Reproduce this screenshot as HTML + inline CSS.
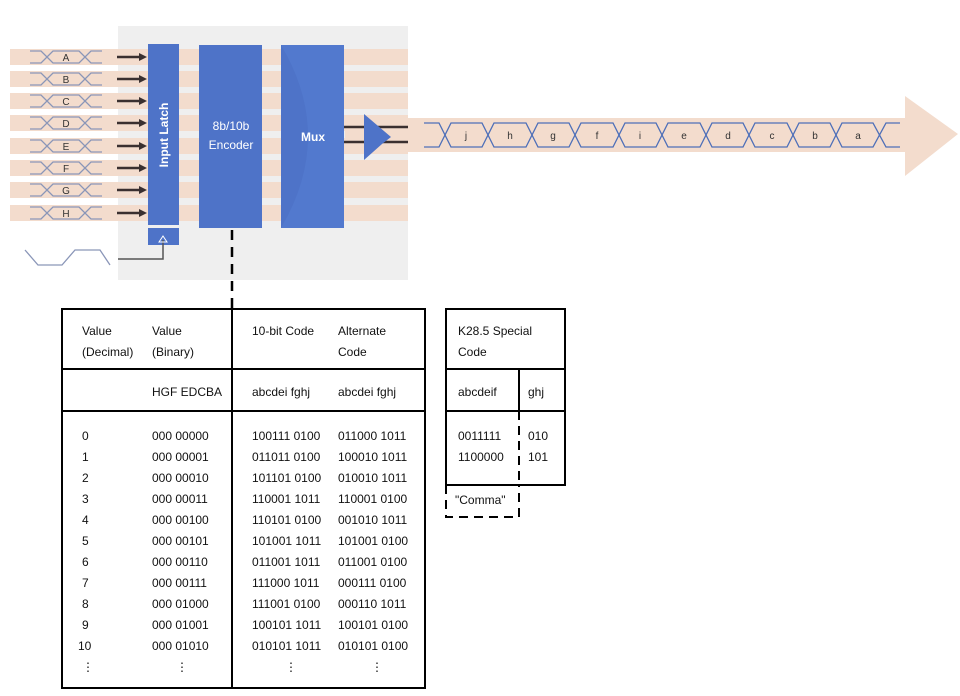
<!DOCTYPE html>
<html><head><meta charset="utf-8"><style>
html,body{margin:0;padding:0;background:#fff;}
svg{display:block;font-family:"Liberation Sans",Arial,sans-serif;}
</style></head><body>
<svg width="960" height="696" viewBox="0 0 960 696" xmlns="http://www.w3.org/2000/svg">
<rect x="118" y="26" width="290" height="254" fill="#efefef"/>
<g fill="#f3dccd">
<rect x="10" y="49" width="398" height="16"/>
<rect x="10" y="71" width="398" height="16"/>
<rect x="10" y="93" width="398" height="16"/>
<rect x="10" y="115" width="398" height="16"/>
<rect x="10" y="138" width="398" height="16"/>
<rect x="10" y="160" width="398" height="16"/>
<rect x="10" y="182" width="398" height="16"/>
<rect x="10" y="205" width="398" height="16"/>
<polygon points="345,118 905,118 905,96 958,134 905,176 905,152 345,152"/>
</g>
<g fill="none" stroke="#8a96b8" stroke-width="1.3">
<path id="eye" d="M30,51 L41,51 L53,63 L79,63 L91,51 L102,51 M30,63 L41,63 L53,51 L79,51 L91,63 L102,63"/>
<use href="#eye" y="22"/><use href="#eye" y="44"/><use href="#eye" y="66"/><use href="#eye" y="89"/><use href="#eye" y="111"/><use href="#eye" y="133"/><use href="#eye" y="156"/>
</g>
<g font-size="10" fill="#333" text-anchor="middle">
<text x="66" y="61">A</text><text x="66" y="83">B</text><text x="66" y="105">C</text><text x="66" y="127">D</text><text x="66" y="150">E</text><text x="66" y="172">F</text><text x="66" y="194">G</text><text x="66" y="217">H</text>
</g>
<g stroke="#3a3030" stroke-width="2.5">
<line x1="117" y1="57" x2="140" y2="57"/><line x1="117" y1="79" x2="140" y2="79"/><line x1="117" y1="101" x2="140" y2="101"/><line x1="117" y1="123" x2="140" y2="123"/><line x1="117" y1="146" x2="140" y2="146"/><line x1="117" y1="168" x2="140" y2="168"/><line x1="117" y1="190" x2="140" y2="190"/><line x1="117" y1="213" x2="140" y2="213"/>
</g>
<g fill="#3a3030">
<polygon points="139,53 147,57 139,61"/><polygon points="139,75 147,79 139,83"/><polygon points="139,97 147,101 139,105"/><polygon points="139,119 147,123 139,127"/><polygon points="139,142 147,146 139,150"/><polygon points="139,164 147,168 139,172"/><polygon points="139,186 147,190 139,194"/><polygon points="139,209 147,213 139,217"/>
</g>
<rect x="148" y="44" width="31" height="181" fill="#4e73c8"/>
<rect x="148" y="228" width="31" height="17" fill="#4e73c8"/>
<rect x="199" y="45" width="63" height="183" fill="#4e73c8"/>
<rect x="281" y="45" width="63" height="183" fill="#4e73c8"/>
<path d="M281,45 Q335,136 281,228 L344,228 L344,45 Z" fill="#5680d4" opacity="0.5"/>
<text transform="translate(168,135) rotate(-90)" font-size="12" font-weight="bold" fill="#fff" text-anchor="middle">Input Latch</text>
<text x="231" y="130" font-size="12" fill="#fff" text-anchor="middle">8b/10b</text>
<text x="231" y="149" font-size="12" fill="#fff" text-anchor="middle">Encoder</text>
<text x="313" y="141" font-size="12" font-weight="bold" fill="#fff" text-anchor="middle">Mux</text>
<polyline points="25,250 38,265 62,265 75,250 100,250 110,265" fill="none" stroke="#8a96b8" stroke-width="1.3"/>
<polyline points="118,259 163,259 163,240" fill="none" stroke="#555" stroke-width="1.5"/>
<polygon points="159,242 163,236 167,242" fill="none" stroke="#fff" stroke-width="1"/>
<g stroke="#3a3030" stroke-width="2.5"><line x1="344" y1="127" x2="408" y2="127"/><line x1="344" y1="142" x2="408" y2="142"/></g>
<polygon points="364,114 391,137 382,144 364,160" fill="#4e73c8"/>
<g font-size="10" fill="#333" text-anchor="middle">
<text x="466" y="139">j</text><text x="510" y="139">h</text><text x="553" y="139">g</text><text x="597" y="139">f</text><text x="640" y="139">i</text><text x="684" y="139">e</text><text x="728" y="139">d</text><text x="772" y="139">c</text><text x="815" y="139">b</text><text x="858" y="139">a</text>
</g>
<g fill="none" stroke="#4e6fb8" stroke-width="1.3">
<path d="M424,123 L439,123 L451,147 L482,147 L494,123 L526,123 L538,147 L569,147 L581,123 L613,123 L625,147 L656,147 L668,123 L700,123 L712,147 L743,147 L755,123 L787,123 L799,147 L830,147 L842,123 L873,123 L886,147 L900,147"/>
<path d="M424,147 L439,147 L451,123 L482,123 L494,147 L526,147 L538,123 L569,123 L581,147 L613,147 L625,123 L656,123 L668,147 L700,147 L712,123 L743,123 L755,147 L787,147 L799,123 L830,123 L842,147 L873,147 L886,123 L900,123"/>
</g>
<line x1="232" y1="230" x2="232" y2="309" stroke="#000" stroke-width="2.5" stroke-dasharray="10,7"/>
<g stroke="#000" stroke-width="2" fill="none">
<rect x="62" y="309" width="363" height="379"/>
<line x1="232" y1="309" x2="232" y2="688"/>
<line x1="62" y1="369" x2="425" y2="369"/>
<line x1="62" y1="411" x2="425" y2="411"/>
<rect x="446" y="309" width="119" height="176"/>
<line x1="446" y1="369" x2="565" y2="369"/>
<line x1="446" y1="411" x2="565" y2="411"/>
<line x1="519" y1="369" x2="519" y2="411"/>
</g>
<g stroke="#000" stroke-width="2" fill="none" stroke-dasharray="9,6">
<line x1="519" y1="411" x2="519" y2="485"/>
<polyline points="446,485 446,517 519,517 519,485"/>
</g>
<g font-size="12" fill="#111">
<text x="82" y="335">Value</text><text x="82" y="356">(Decimal)</text>
<text x="152" y="335">Value</text><text x="152" y="356">(Binary)</text>
<text x="252" y="335">10-bit Code</text>
<text x="338" y="335">Alternate</text><text x="338" y="356">Code</text>
<text x="152" y="396">HGF EDCBA</text>
<text x="252" y="396">abcdei fghj</text>
<text x="338" y="396">abcdei fghj</text>
<text x="458" y="335">K28.5 Special</text><text x="458" y="356">Code</text>
<text x="458" y="396">abcdeif</text><text x="528" y="396">ghj</text>
<text x="458" y="440">0011111</text><text x="528" y="440">010</text>
<text x="458" y="461">1100000</text><text x="528" y="461">101</text>
<text x="455" y="504">"Comma"</text>
</g>
<g font-size="12" fill="#111">
<text x="82" y="440">0</text><text x="82" y="461">1</text><text x="82" y="482">2</text><text x="82" y="503">3</text><text x="82" y="524">4</text><text x="82" y="545">5</text><text x="82" y="566">6</text><text x="82" y="587">7</text><text x="82" y="608">8</text><text x="82" y="629">9</text><text x="78" y="650">10</text><text x="82" y="671">⋮</text>
<text x="152" y="440">000 00000</text><text x="152" y="461">000 00001</text><text x="152" y="482">000 00010</text><text x="152" y="503">000 00011</text><text x="152" y="524">000 00100</text><text x="152" y="545">000 00101</text><text x="152" y="566">000 00110</text><text x="152" y="587">000 00111</text><text x="152" y="608">000 01000</text><text x="152" y="629">000 01001</text><text x="152" y="650">000 01010</text><text x="176" y="671">⋮</text>
<text x="252" y="440">100111 0100</text><text x="252" y="461">011011 0100</text><text x="252" y="482">101101 0100</text><text x="252" y="503">110001 1011</text><text x="252" y="524">110101 0100</text><text x="252" y="545">101001 1011</text><text x="252" y="566">011001 1011</text><text x="252" y="587">111000 1011</text><text x="252" y="608">111001 0100</text><text x="252" y="629">100101 1011</text><text x="252" y="650">010101 1011</text><text x="285" y="671">⋮</text>
<text x="338" y="440">011000 1011</text><text x="338" y="461">100010 1011</text><text x="338" y="482">010010 1011</text><text x="338" y="503">110001 0100</text><text x="338" y="524">001010 1011</text><text x="338" y="545">101001 0100</text><text x="338" y="566">011001 0100</text><text x="338" y="587">000111 0100</text><text x="338" y="608">000110 1011</text><text x="338" y="629">100101 0100</text><text x="338" y="650">010101 0100</text><text x="371" y="671">⋮</text>
</g>
</svg>
</body></html>
